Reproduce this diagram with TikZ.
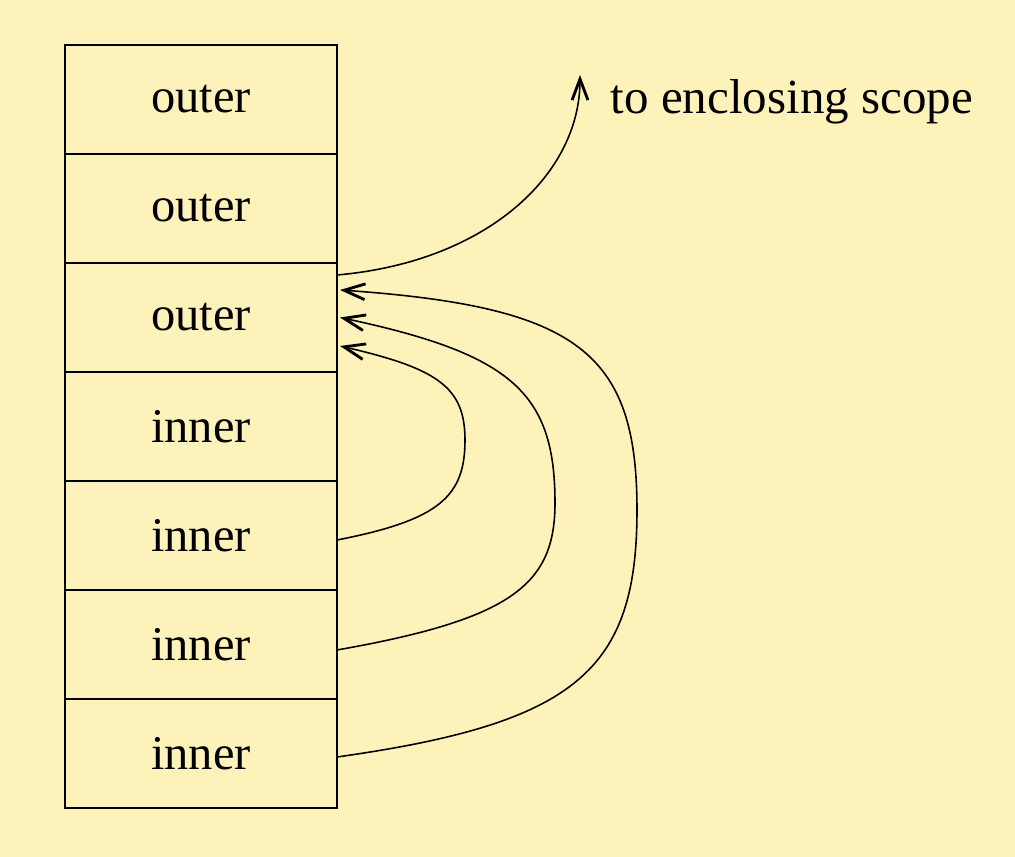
\documentclass[tikz,border=0pt]{standalone}
\usepackage{fontspec}
\setmainfont{Liberation Serif}
\usetikzlibrary{arrows.meta, positioning, calc}
\definecolor{bgyellow}{RGB}{254,242,187}
\tikzset{
  frame/.style={rectangle, draw, minimum width=2.72cm, minimum height=1.09cm,
    inner sep=0pt, outer sep=0pt, font=\fontsize{13.8}{16}\selectfont, line width=0.45pt},
  ptr/.style={-{Straight Barb[length=6pt,width=4.5pt,line width=0.8pt]}, line width=0.45pt}
}
\begin{document}
\begin{tikzpicture}
  % Background
  \fill[bgyellow] (0,0) rectangle (10.15,8.57);
  \useasboundingbox (0,0) rectangle (10.15,8.57);

  % Stack of frames
  \node[frame] (o1) at (2.01, 7.575) {outer};
  \node[frame, below=0pt of o1] (o2) {outer};
  \node[frame, below=0pt of o2] (o3) {outer};
  \node[frame, below=0pt of o3] (i1) {inner};
  \node[frame, below=0pt of i1] (i2) {inner};
  \node[frame, below=0pt of i2] (i3) {inner};
  \node[frame, below=0pt of i3] (i4) {inner};

  % Enclosing scope
  \coordinate (up) at (5.80, 7.82);
  \node[anchor=base west, inner sep=0pt, font=\fontsize{13.95}{16}\selectfont] (scope) at (6.10, 7.43) {to enclosing scope};

  % Links
  \draw[ptr] ($(o3.east)+(0,0.425)$) to[out=5, in=-90, out distance=1.5cm, in distance=1.0cm] (up);

  \draw[ptr] ($(i2.east)+(0,-0.045)$) to[out=11, in=-90, out distance=1.05cm, in distance=0.56cm] (4.65, 4.17)
    to[out=90, in=-13, out distance=0.53cm, in distance=1.0cm] ($(o3.east)+(0.03,-0.285)$);
  \draw[ptr] ($(i3.east)+(0,-0.055)$) to[out=10, in=-90, out distance=1.77cm, in distance=0.82cm] (5.55, 3.54)
    to[out=90, in=-12, out distance=1.1cm, in distance=1.76cm] ($(o3.east)+(0.03,0)$);
  \draw[ptr] ($(i4.east)+(0,-0.035)$) to[out=8, in=-90, out distance=2.42cm, in distance=1.6cm] (6.37, 3.47)
    to[out=90, in=-4, out distance=1.58cm, in distance=2.38cm] ($(o3.east)+(0.03,0.275)$);
\end{tikzpicture}
\end{document}
